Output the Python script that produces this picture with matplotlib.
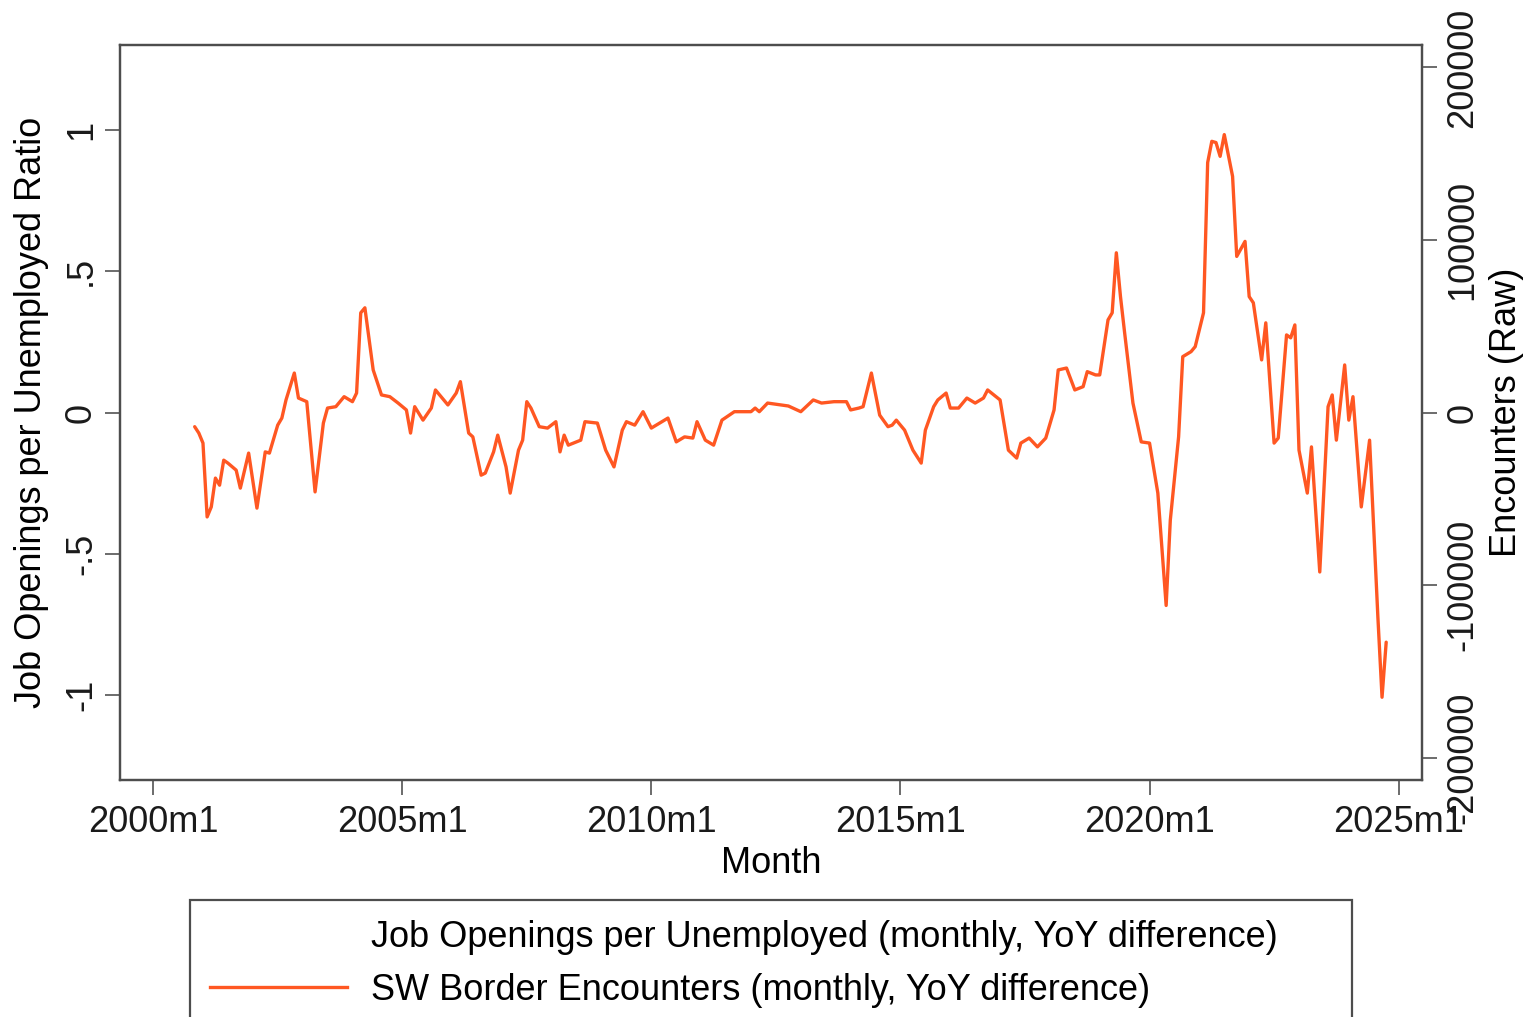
import matplotlib
matplotlib.use('Agg')
import matplotlib.pyplot as plt
from matplotlib.lines import Line2D

plt.rcParams['font.family'] = ['Liberation Sans', 'DejaVu Sans']

# months since 2000m1 (Stata-style monthly index, 0 = 2000m1)
month = [
    10, 11, 12, 13, 14, 15, 16, 17, 18, 20, 21, 23, 25, 27, 28, 30, 31, 32, 34, 35,
    37, 39, 41, 42, 44, 46, 48, 49, 50, 51, 53, 55, 57, 59, 61, 62, 63, 65, 67, 68,
    70, 71, 73, 74, 76, 77, 79, 80, 82, 83, 85, 86, 88, 89, 90, 91, 93, 95, 97, 98,
    99, 100, 103, 104, 107, 109, 111, 113, 114, 116, 118, 120, 124, 126, 128, 130, 131, 133, 135, 137,
    140, 144, 145, 146, 148, 153, 156, 159, 161, 164, 167, 168, 170, 171, 173, 175, 177, 178, 179, 181,
    183, 185, 186, 188, 189, 191, 192, 194, 196, 198, 200, 201, 203, 204, 206, 208, 209, 211, 213, 215,
    217, 218, 220, 222, 224, 225, 227, 228, 230, 231, 232, 233, 234, 236, 238, 240, 242, 244, 245, 247,
    248, 250, 251, 253, 254, 255, 256, 257, 258, 260, 261, 263, 264, 265, 267, 268, 270, 271, 273, 274,
    275, 276, 278, 279, 281, 283, 284, 285, 287, 288, 289, 291, 293, 295, 296, 297,
]

# SW border encounters, YoY difference (raw count)
encounters_yoy = [
    -8200, -11900, -17700, -60500, -54700, -38000, -42100, -27600, -29300, -33400,
    -43800, -23500, -55400, -22800, -23500, -7300, -3200, 7300, 22900, 8400,
    6300, -46000, -6100, 2600, 3400, 9200, 6300, 11300, 57800, 60700,
    24700, 10200, 9200, 5500, 1500, -11900, 3400, -4400, 2600, 13100,
    7300, 4400, 11300, 17900, -11900, -14100, -36300, -35100, -22800, -13100,
    -31500, -46700, -21800, -16000, 6300, 2600, -8200, -9000, -5300, -22800,
    -13100, -18900, -16000, -5300, -6100, -21800, -31500, -10200, -5300, -7300,
    500, -9000, -3200, -17000, -14100, -14800, -5300, -16000, -18900, -4400,
    500, 500, 2600, 500, 5500, 3800, 500, 7300, 5500, 6300,
    6300, 1500, 2600, 3400, 22900, -1500, -8200, -7300, -4400, -10200,
    -21800, -29300, -10200, 3400, 7300, 11300, 2600, 2600, 8400, 5500,
    8400, 13100, 9200, 7300, -21800, -26400, -17700, -14800, -19900, -14800,
    1500, 24700, 25800, 13100, 15000, 23700, 21800, 21800, 53700, 57800,
    92600, 67200, 46200, 5500, -17000, -17700, -46700, -111800, -62400, -14100,
    32400, 35300, 38200, 57800, 144900, 157200, 156500, 148500, 161100, 136900,
    90500, 99200, 67200, 63600, 30500, 52000, -17700, -14800, 45000, 43300,
    50800, -21800, -46700, -19900, -92400, 3400, 10200, -16000, 27600, -4400,
    9200, -54700, -16000, -118600, -165000, -133100,
]

x_ticks = [0, 60, 120, 180, 240, 300]
x_labels = ['2000m1', '2005m1', '2010m1', '2015m1', '2020m1', '2025m1']
left_ticks = [-1, -0.5, 0, 0.5, 1]
left_labels = ['-1', '-.5', '0', '.5', '1']
right_ticks = [-200000, -100000, 0, 100000, 200000]
right_labels = ['-200000', '-100000', '0', '100000', '200000']

line_color = '#ff5722'
spine_color = '#4d4d4d'
tick_color = '#6b6b6b'
fs = 26

fig = plt.figure(figsize=(15.24, 10.17), dpi=100)
ax = fig.add_axes([0.0787, 0.2330, 0.8543, 0.7227])
ax2 = ax.twinx()

ax2.plot(month, encounters_yoy, color=line_color, lw=2.4,
         solid_joinstyle='round', solid_capstyle='round')

ax.set_xlim(-8, 305.6)
ax.set_ylim(-1.3, 1.3)
ax2.set_ylim(-213000, 213000)

ax.set_xticks(x_ticks)
ax.set_xticklabels(x_labels)
ax.set_yticks(left_ticks)
ax.set_yticklabels(left_labels, rotation=90, va='center')
ax2.set_yticks(right_ticks)
ax2.set_yticklabels(right_labels, rotation=90, va='center')

for a in (ax, ax2):
    for s in a.spines.values():
        s.set_color(spine_color)
        s.set_linewidth(1.6)
    a.tick_params(length=11, width=1.4, color=tick_color, labelsize=fs,
                  labelcolor='#1a1a1a')
ax.tick_params(axis='x', pad=7)
ax.tick_params(axis='y', pad=4)
ax2.tick_params(axis='y', pad=6)

ax.set_xlabel('Month', fontsize=fs, labelpad=4)
ax.set_ylabel('Job Openings per Unemployed Ratio', fontsize=fs, labelpad=11)
ax2.set_ylabel('Encounters (Raw)', fontsize=fs, labelpad=6)

handles = [
    Line2D([], [], color='none', lw=2.4),
    Line2D([], [], color=line_color, lw=2.4),
]
labels = [
    'Job Openings per Unemployed (monthly, YoY difference)',
    'SW Border Encounters (monthly, YoY difference)',
]
leg = fig.legend(handles, labels, loc='upper left',
                 bbox_to_anchor=(190 / 1524, 0, 1162 / 1524, 1 - 900 / 1017),
                 mode='expand', fontsize=fs, handlelength=3.8, handletextpad=0.65,
                 borderpad=0.55, labelspacing=0.5, borderaxespad=0,
                 fancybox=False, framealpha=1)
leg.get_frame().set_edgecolor(spine_color)
leg.get_frame().set_linewidth(1.6)

fig.savefig('out.png', dpi=100)
